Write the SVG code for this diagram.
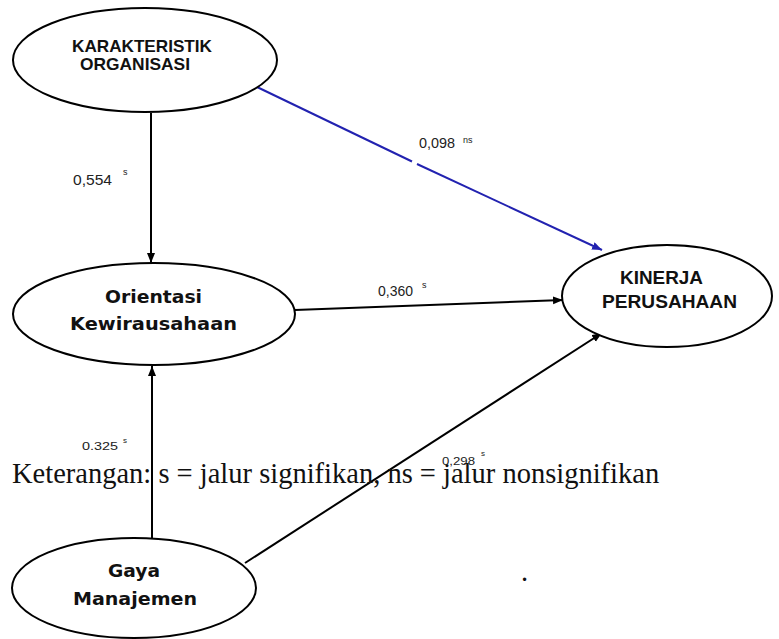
<svg xmlns="http://www.w3.org/2000/svg" width="779" height="639" viewBox="0 0 779 639">
<style>
.node{fill:#fff;stroke:#000;stroke-width:2}
.edge{stroke:#000;stroke-width:2;fill:none}
.blue{stroke:#2222b0;stroke-width:2;fill:none}
.t1{font-family:"Liberation Sans",Arial,sans-serif;font-weight:bold;fill:#111}
.t2{font-family:"DejaVu Sans",Verdana,sans-serif;font-weight:bold;fill:#111}
.lbl{font-family:"Liberation Sans",Arial,sans-serif;fill:#222}
.note{font-family:"Liberation Serif","Times New Roman",serif;fill:#111}
</style>
<defs>
<marker id="ah" markerUnits="userSpaceOnUse" markerWidth="11" markerHeight="9" refX="10" refY="4" orient="auto">
<path d="M0,0 L10,4 L0,8 z" fill="#000"/>
</marker>
<marker id="ahb" markerUnits="userSpaceOnUse" markerWidth="11" markerHeight="9" refX="10" refY="4" orient="auto">
<path d="M0,0 L10,4 L0,8 z" fill="#2222b0"/>
</marker>
</defs>
<rect width="779" height="639" fill="#fff"/>
<g id="connectors">
<path class="edge" d="M151,113 L151,263" marker-end="url(#ah)"/>
<path class="blue" d="M257,87 L412,161.5"/>
<path class="blue" d="M417,164 L602,250" marker-end="url(#ahb)"/>
<path class="edge" d="M295,310 L563,300" marker-end="url(#ah)"/>
<path class="edge" d="M152,538 L152,366" marker-end="url(#ah)"/>
<path class="edge" d="M245,563 L602,333" marker-end="url(#ah)"/>
</g>
<g id="node-karakteristik">
<ellipse class="node" cx="145" cy="60" rx="132" ry="52"/>
<text class="t1" x="72" y="52" font-size="17" textLength="140" lengthAdjust="spacingAndGlyphs">KARAKTERISTIK</text>
<text class="t1" x="80" y="70" font-size="17" textLength="110" lengthAdjust="spacingAndGlyphs">ORGANISASI</text>
</g>
<g id="node-orientasi">
<ellipse class="node" cx="154" cy="314" rx="141" ry="51"/>
<text class="t2" x="105" y="303" font-size="18" textLength="97" lengthAdjust="spacingAndGlyphs">Orientasi</text>
<text class="t2" x="70" y="330" font-size="18" textLength="167" lengthAdjust="spacingAndGlyphs">Kewirausahaan</text>
</g>
<g id="node-kinerja">
<ellipse class="node" cx="667" cy="296" rx="105" ry="51"/>
<text class="t1" x="620" y="284" font-size="19" textLength="83" lengthAdjust="spacingAndGlyphs">KINERJA</text>
<text class="t1" x="602" y="308" font-size="19" textLength="135" lengthAdjust="spacingAndGlyphs">PERUSAHAAN</text>
</g>
<g id="node-gaya">
<ellipse class="node" cx="134" cy="588" rx="122" ry="50"/>
<text class="t2" x="108" y="577" font-size="18" textLength="52" lengthAdjust="spacingAndGlyphs">Gaya</text>
<text class="t2" x="73" y="605" font-size="18" textLength="124" lengthAdjust="spacingAndGlyphs">Manajemen</text>
</g>
<g id="labels">
<text class="lbl" x="73" y="185" font-size="15" textLength="39" lengthAdjust="spacingAndGlyphs">0,554</text>
<text class="lbl" x="123" y="175" font-size="9">s</text>
<text class="lbl" x="419" y="148" font-size="14" textLength="36" lengthAdjust="spacingAndGlyphs">0,098</text>
<text class="lbl" x="463" y="143" font-size="9">ns</text>
<text class="lbl" x="378" y="296" font-size="14" textLength="35" lengthAdjust="spacingAndGlyphs">0,360</text>
<text class="lbl" x="422" y="288" font-size="9">s</text>
<text class="lbl" x="82" y="450" font-size="11" textLength="36" lengthAdjust="spacingAndGlyphs">0.325</text>
<text class="lbl" x="123" y="443" font-size="8">s</text>
</g>
<g id="note">
<text class="note" x="12" y="483" font-size="28.5">Keterangan: s = jalur signifikan, ns = jalur nonsignifikan</text>
<text class="lbl" x="442" y="465" font-size="11" textLength="33" lengthAdjust="spacingAndGlyphs">0,298</text>
<text class="lbl" x="481" y="456" font-size="8">s</text>
<text class="note" x="521" y="581" font-size="28.5">.</text>
</g>
</svg>
